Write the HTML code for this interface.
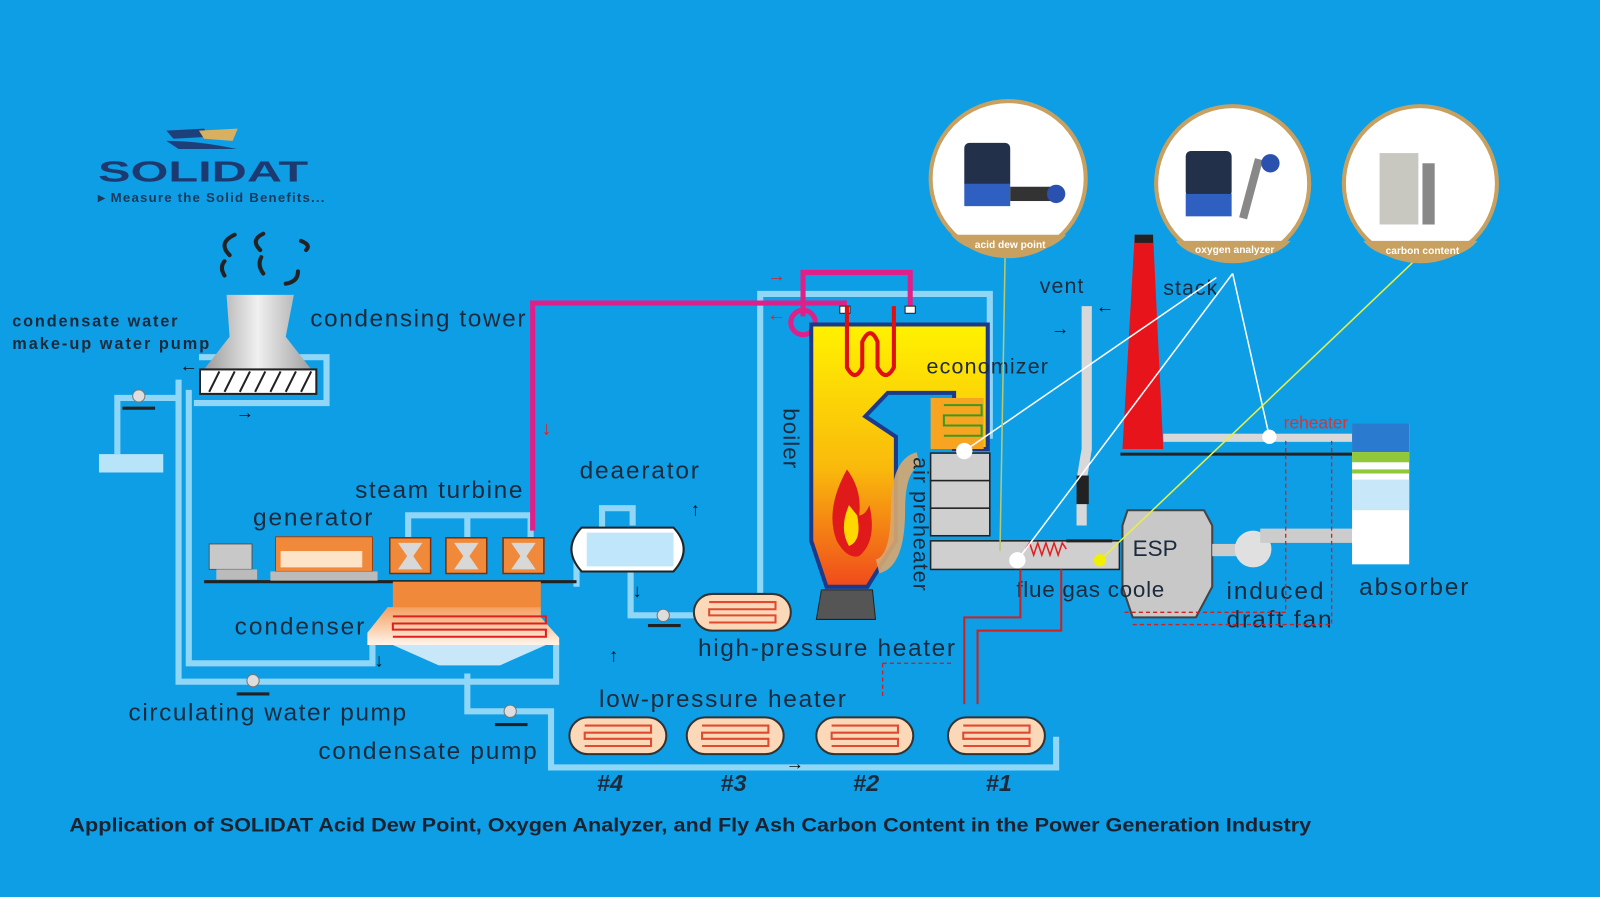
<!DOCTYPE html>
<html><head><meta charset="utf-8"><style>
html,body{margin:0;padding:0;background:#0e9ee6;}
svg{display:block}
text{font-family:"Liberation Sans",sans-serif;}
</style></head><body>
<svg width="1600" height="897" viewBox="0 0 1568 879" preserveAspectRatio="none" xmlns="http://www.w3.org/2000/svg">
<defs>
<linearGradient id="boil" x1="0" y1="0" x2="0" y2="1">
<stop offset="0" stop-color="#fff200"/><stop offset="0.55" stop-color="#f9b90c"/><stop offset="1" stop-color="#f04a1c"/></linearGradient>
<linearGradient id="tow" x1="0" y1="0" x2="1" y2="0"><stop offset="0" stop-color="#9a9a9a"/><stop offset="0.5" stop-color="#f0f0f0"/><stop offset="1" stop-color="#a0a0a0"/></linearGradient>
<linearGradient id="cond" x1="0" y1="0" x2="0" y2="1"><stop offset="0" stop-color="#f4a060"/><stop offset="1" stop-color="#fff4ea"/></linearGradient>
</defs>
<rect width="1568" height="879" fill="#0e9ee6"/>

<!-- logo -->
<path d="M163 128 L200 126 L205 134 L170 136 Z" fill="#1d3f7a"/>
<path d="M195 128 L233 126 L228 138 L200 136 Z" fill="#d8b060"/>
<path d="M163 138 Q195 138 232 146 L175 146 Z" fill="#1d3f7a"/>
<text x="96" y="178" font-family="Liberation Serif,serif" font-weight="bold" font-size="28" fill="#1d3a70" textLength="206" lengthAdjust="spacingAndGlyphs">SOLIDAT</text>
<text x="96" y="198" font-size="13" font-weight="bold" fill="#1d3a5a" textLength="222">▸ Measure the Solid Benefits...</text>

<!-- light blue pipes -->
<g fill="none" stroke="#8fd6f7" stroke-width="6">
<path d="M175 372 L175 668 L545 668 L545 630"/>
<path d="M185 382 L185 650 L365 650 L365 630"/>
<path d="M195 350 L320 350 L320 395 L190 395"/>
<path d="M115 445 L115 390 L175 390"/>
<path d="M400 527 L400 505 L520 505 L520 527"/>
<path d="M458 505 L458 527"/>
<path d="M458 660 L458 697 L540 697 L540 752 L1035 752 L1035 722"/>
<path d="M590 525 L590 498 L620 498 L620 515"/>
<path d="M618 560 L618 603 L685 603"/>
<path d="M745 585 L745 288 L970 288 L970 430"/>
<path d="M565 540 L565 575"/>
</g>
<rect x="97" y="445" width="63" height="18" fill="#b8e4fa"/>

<!-- cooling tower -->
<path d="M222 289 L288 289 L280 330 L305 362 L200 362 L225 330 Z" fill="url(#tow)"/>
<rect x="196" y="362" width="114" height="24" fill="#fff" stroke="#222" stroke-width="2"/>
<g stroke="#222" stroke-width="2"><path d="M205 384 L215 364 M220 384 L230 364 M235 384 L245 364 M250 384 L260 364 M265 384 L275 364 M280 384 L290 364 M295 384 L305 364"/></g>
<g fill="none" stroke="#222" stroke-width="4" stroke-linecap="round">
<path d="M225 250 Q213 238 230 230"/><path d="M255 245 Q245 235 258 229"/><path d="M295 236 Q305 240 300 245"/>
<path d="M220 270 Q215 262 220 256"/><path d="M258 268 Q252 260 256 252"/><path d="M280 278 Q292 276 292 266"/>
</g>
<g font-size="24" fill="#1c2a3c" letter-spacing="1">
<text x="304" y="320" textLength="212">condensing tower</text>
<text x="248" y="515" textLength="118">generator</text>
<text x="348" y="488" textLength="165">steam turbine</text>
<text x="230" y="622" textLength="128">condenser</text>
<text x="126" y="706" textLength="273">circulating water pump</text>
<text x="312" y="744" textLength="215">condensate pump</text>
<text x="568" y="469" textLength="118">deaerator</text>
<text x="684" y="643" textLength="253">high-pressure heater</text>
<text x="587" y="693" textLength="243">low-pressure heater</text>
<text x="1202" y="587" textLength="96">induced</text>
<text x="1202" y="615" textLength="104">draft fan</text>
<text x="1332" y="583" textLength="108">absorber</text>
</g>
<text x="12" y="320" font-size="16" font-weight="bold" fill="#1c2a3c" textLength="162">condensate water</text>
<text x="12" y="342" font-size="16" font-weight="bold" fill="#1c2a3c" textLength="193">make-up water pump</text>

<!-- magenta steam pipe -->
<g fill="none" stroke="#e0208a" stroke-width="5">
<path d="M522 520 L522 297 L830 297"/>
<path d="M787 310 L787 267 L892 267 L892 302"/>
<circle cx="787" cy="316" r="12"/>
</g>
<rect x="823" y="300" width="10" height="7" fill="#fff" stroke="#222"/><rect x="887" y="300" width="10" height="7" fill="#fff" stroke="#222"/>

<!-- turbine base line and generator -->
<line x1="200" y1="570" x2="565" y2="570" stroke="#222" stroke-width="3"/>
<rect x="205" y="533" width="42" height="25" fill="#c8c8c8" stroke="#555"/>
<rect x="212" y="558" width="40" height="10" fill="#bbb"/>
<rect x="270" y="526" width="95" height="34" fill="#f08a3a" stroke="#a04010"/>
<rect x="275" y="540" width="80" height="16" fill="#fde4c8"/>
<rect x="265" y="560" width="105" height="9" fill="#bbb"/>
<g fill="#f08a3a" stroke="#7a3008" stroke-width="1.5">
<rect x="382" y="527" width="40" height="35"/><rect x="437" y="527" width="40" height="35"/><rect x="493" y="527" width="40" height="35"/></g>
<g fill="#d8d8d8"><path d="M390 532 L414 532 L405 545 L414 558 L390 558 L399 545Z"/><path d="M445 532 L469 532 L460 545 L469 558 L445 558 L454 545Z"/><path d="M501 532 L525 532 L516 545 L525 558 L501 558 L510 545Z"/></g>
<!-- condenser -->
<rect x="385" y="570" width="145" height="25" fill="#f08a3a"/>
<path d="M380 595 L530 595 L530 605 L548 625 L548 632 L360 632 L360 620 Z" fill="url(#cond)"/>
<path d="M385 632 L535 632 L490 652 L430 652 Z" fill="#c8e8fa"/>
<g fill="none" stroke="#e02020" stroke-width="2"><path d="M385 604 L535 604 L535 611 L385 611 L385 617 L535 617 L535 624 L385 624"/></g>

<!-- pumps -->
<g fill="#ddd" stroke="#777"><circle cx="136" cy="388" r="6"/><circle cx="248" cy="667" r="6"/><circle cx="500" cy="697" r="6"/><circle cx="650" cy="603" r="6"/></g>
<g stroke="#222" stroke-width="3"><line x1="120" y1="400" x2="152" y2="400"/><line x1="232" y1="680" x2="264" y2="680"/><line x1="485" y1="710" x2="517" y2="710"/><line x1="635" y1="613" x2="667" y2="613"/></g>

<!-- deaerator -->
<path d="M570 517 L660 517 Q680 538 660 560 L570 560 Q550 538 570 517Z" fill="#fff" stroke="#222" stroke-width="2"/>
<rect x="575" y="522" width="85" height="33" fill="#bfe6fa"/>

<!-- heaters -->
<g fill="#fad8b8" stroke="#333" stroke-width="2">
<rect x="680" y="582" width="95" height="36" rx="18"/>
<rect x="558" y="703" width="95" height="36" rx="18"/>
<rect x="673" y="703" width="95" height="36" rx="18"/>
<rect x="800" y="703" width="95" height="36" rx="18"/>
<rect x="929" y="703" width="95" height="36" rx="18"/>
</g>
<g fill="none" stroke="#e04a30" stroke-width="2">
<path d="M695 590 L760 590 L760 597 L695 597 L695 603 L760 603 L760 610 L695 610"/>
<path d="M573 711 L638 711 L638 718 L573 718 L573 724 L638 724 L638 731 L573 731"/>
<path d="M688 711 L753 711 L753 718 L688 718 L688 724 L753 724 L753 731 L688 731"/>
<path d="M815 711 L880 711 L880 718 L815 718 L815 724 L880 724 L880 731 L815 731"/>
<path d="M944 711 L1009 711 L1009 718 L944 718 L944 724 L1009 724 L1009 731 L944 731"/>
</g>
<g font-size="23" font-weight="bold" font-style="italic" fill="#1c2a3c">
<text x="585" y="775">#4</text><text x="706" y="775">#3</text><text x="836" y="775">#2</text><text x="966" y="775">#1</text></g>

<!-- boiler -->
<path d="M795 318 L968 318 L968 440 L935 440 L935 385 L870 385 L848 408 L878 428 L878 530 L850 575 L810 575 L795 530 Z" fill="url(#boil)" stroke="#1d3a8a" stroke-width="4"/>
<rect x="912" y="390" width="52" height="50" fill="#f7a520"/>
<path d="M830 335 L830 360 Q838 375 845 360 L845 335 Q853 318 860 335 L860 360 Q868 375 876 360 L876 300 M830 335 L830 300" fill="none" stroke="#e01010" stroke-width="4"/>
<path d="M925 397 L962 397 L962 407 L925 407 L925 417 L962 417 L962 427 L925 427" fill="none" stroke="#3a9a20" stroke-width="2"/>
<path d="M830 460 Q808 500 820 530 Q830 548 842 545 Q860 530 852 495 Q848 505 842 505 Q845 480 830 460Z" fill="#e01a1a"/>
<path d="M832 495 Q822 518 832 535 Q845 530 840 505Z" fill="#ffd800"/>
<path d="M805 578 L855 578 L858 607 L800 607 Z" fill="#555" stroke="#222"/>
<text transform="translate(768,400) rotate(90)" font-size="22" fill="#1c2a3c" letter-spacing="1">boiler</text>
<text x="908" y="366" font-size="21" fill="#1c2a3c" letter-spacing="1" textLength="120">economizer</text>
<!-- air preheater -->
<path d="M900 450 Q880 455 880 500 Q880 550 860 555" fill="none" stroke="#d8a870" stroke-width="14" opacity="0.9"/>
<g fill="#cfcfcf" stroke="#222" stroke-width="1.5">
<rect x="912" y="444" width="58" height="27"/><rect x="912" y="471" width="58" height="27"/><rect x="912" y="498" width="58" height="27"/></g>
<rect x="912" y="530" width="185" height="28" fill="#cfcfcf" stroke="#222" stroke-width="1.5"/>
<text transform="translate(895,448) rotate(90)" font-size="21" fill="#1c2a3c" letter-spacing="1">air preheater</text>
<path d="M1005 538 l4 -6 l4 12 l4 -12 l4 12 l4 -12 l4 12 l4 -12 l4 12 l4 -12 l4 6" fill="none" stroke="#e02020" stroke-width="1.5"/>

<!-- vent -->
<path d="M1065 300 L1065 440 L1060 470 L1060 515" fill="none" stroke="#d8d8d8" stroke-width="10"/>
<rect x="1055" y="466" width="12" height="28" fill="#222"/>
<text x="1019" y="287" font-size="21" fill="#1c2a3c" letter-spacing="1">vent</text>
<line x1="1045" y1="530" x2="1090" y2="530" stroke="#222" stroke-width="3"/>
<!-- stack -->
<path d="M1112 230 L1130 230 L1140 440 L1100 440 Z" fill="#e8141c"/>
<rect x="1112" y="230" width="18" height="8" fill="#222"/>
<text x="1140" y="289" font-size="21" fill="#1c2a3c" letter-spacing="1">stack</text>
<line x1="1098" y1="445" x2="1330" y2="445" stroke="#222" stroke-width="3"/>
<rect x="1140" y="425" width="185" height="8" fill="#d8d8d8"/>
<text x="1258" y="420" font-size="17" fill="#e03030">reheater</text>
<!-- ESP -->
<path d="M1105 500 L1180 500 L1188 515 L1188 575 L1172 605 L1110 605 L1100 575 L1100 515 Z" fill="#c8c8c8" stroke="#444" stroke-width="2"/>
<text x="1110" y="545" font-size="22" fill="#1c2a3c">ESP</text>
<rect x="1188" y="533" width="40" height="12" fill="#ccc"/>
<circle cx="1228" cy="538" r="18" fill="#e0e0e0"/>
<rect x="1235" y="518" width="92" height="14" fill="#ccc"/>
<text x="996" y="585" font-size="22" fill="#1c2a3c" letter-spacing="1" textLength="146">flue gas coole</text>
<!-- absorber -->
<rect x="1325" y="415" width="56" height="138" fill="#fff"/>
<rect x="1325" y="415" width="56" height="28" fill="#2a7ad0"/>
<rect x="1325" y="443" width="56" height="10" fill="#8fc83a"/>
<rect x="1325" y="460" width="56" height="4" fill="#8fc83a"/>
<rect x="1325" y="470" width="56" height="30" fill="#c8e8fa"/>
<!-- red dashed -->
<g fill="none" stroke="#d02020" stroke-width="1.3" stroke-dasharray="4 3">
<path d="M1260 432 L1260 600 L1100 600"/><path d="M1305 432 L1305 612 L1110 612"/><path d="M865 650 L935 650"/><path d="M865 650 L865 685"/>
</g>
<g fill="none" stroke="#d02020" stroke-width="2"><path d="M1000 558 L1000 605 L945 605 L945 690"/><path d="M1040 558 L1040 618 L958 618 L958 690"/></g>

<!-- connector lines -->
<g stroke-width="1.5" fill="none">
<path d="M945 442 L1192 272" stroke="#fff"/><path d="M997 549 L1208 268" stroke="#fff"/><path d="M1244 428 L1208 268" stroke="#fff"/>
<path d="M1078 549 L1392 250" stroke="#e8f040"/><path d="M985 250 L980 540" stroke="#b8c870"/>
</g>
<circle cx="945" cy="442" r="8" fill="#fff"/><circle cx="997" cy="549" r="8" fill="#fff"/><circle cx="1244" cy="428" r="7" fill="#fff"/><circle cx="1078" cy="549" r="6" fill="#f0f000"/>

<!-- instrument circles -->
<g stroke="#c8a060" stroke-width="4" fill="#fff">
<ellipse cx="988" cy="175" rx="76" ry="76"/><ellipse cx="1208" cy="180" rx="75" ry="76"/><ellipse cx="1392" cy="180" rx="75" ry="76"/></g>
<g fill="#c8a060"><path d="M932 230 L1045 230 Q1030 248 988 250 Q946 248 932 230Z"/><path d="M1152 236 L1265 236 Q1250 254 1208 255 Q1166 254 1152 236Z"/><path d="M1336 236 L1448 236 Q1434 254 1392 255 Q1350 254 1336 236Z"/></g>
<g font-size="10" font-weight="bold" fill="#fff" text-anchor="middle"><text x="990" y="243">acid dew point</text><text x="1210" y="248">oxygen analyzer</text><text x="1394" y="249">carbon content</text></g>
<rect x="945" y="140" width="45" height="45" rx="5" fill="#22304a"/><rect x="945" y="180" width="45" height="22" fill="#2f5fc0"/><rect x="990" y="183" width="40" height="14" fill="#333"/><circle cx="1035" cy="190" r="9" fill="#2a50b0"/>
<rect x="1162" y="148" width="45" height="45" rx="5" fill="#22304a"/><rect x="1162" y="190" width="45" height="22" fill="#2f5fc0"/><rect x="1222" y="155" width="8" height="60" fill="#888" transform="rotate(15 1226 185)"/><circle cx="1245" cy="160" r="9" fill="#2a50b0"/>
<rect x="1352" y="150" width="38" height="70" fill="#c8c8c0"/><rect x="1394" y="160" width="12" height="60" fill="#888"/>

<!-- arrows -->
<g font-size="18" font-weight="bold" fill="#111">
<text x="176" y="364">←</text><text x="231" y="410">→</text><text x="367" y="653">↓</text><text x="620" y="585">↓</text><text x="677" y="505">↑</text><text x="597" y="648">↑</text><text x="770" y="754">→</text><text x="1074" y="306">←</text><text x="1030" y="328">→</text>
</g>
<g font-size="18" font-weight="bold" fill="#e02020"><text x="752" y="276">→</text><text x="752" y="314">←</text><text x="531" y="426">↓</text></g>

<text x="68" y="815" font-size="19" font-weight="bold" fill="#1a2230" textLength="1217" lengthAdjust="spacingAndGlyphs">Application of SOLIDAT Acid Dew Point, Oxygen Analyzer, and Fly Ash Carbon Content in the Power Generation Industry</text>
</svg>
</body></html>
